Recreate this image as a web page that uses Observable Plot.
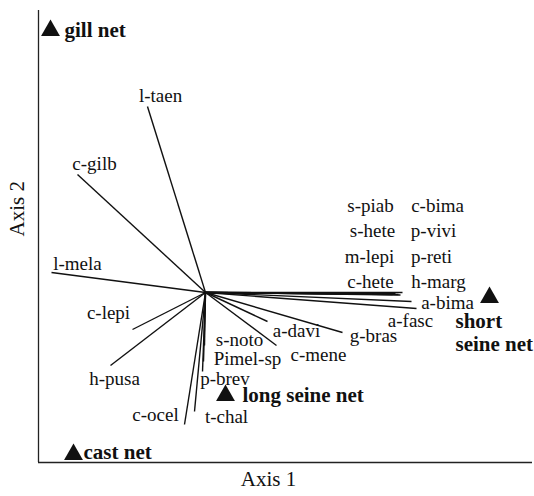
<!DOCTYPE html>
<html>
<head>
<meta charset="utf-8">
<script src="https://cdn.jsdelivr.net/npm/d3@7"></script>
<script src="https://cdn.jsdelivr.net/npm/@observablehq/plot@0.6"></script>
<style>
  html, body { margin: 0; padding: 0; background: #fff; }
  svg text { font-family: "Liberation Serif", "Times New Roman", serif; }
</style>
</head>
<body>
<div id="chart"></div>
<script>
// Species vectors (biplot scores, axis 1 / axis 2)
const species = ["l-taen","c-gilb","l-mela","c-lepi","h-pusa","c-ocel","t-chal","p-brev","Pimel-sp","s-noto",
  "a-davi","c-mene","g-bras","a-fasc","a-bima","s-piab","c-bima","s-hete","p-vivi","m-lepi","p-reti","c-hete","h-marg"];
const axis1 = [-0.58,-1.28,-1.54,-0.73,-0.95,-0.21,-0.11,-0.03,-0.02,-0.01,
  0.62,0.71,1.37,2.11,2.06,1.80,1.83,1.87,1.90,1.75,1.93,1.97,1.95];
const axis2 = [1.86,1.18,0.20,-0.37,-0.73,-1.32,-1.19,-0.79,-0.69,-0.53,
  -0.29,-0.53,-0.40,-0.16,-0.09,-0.01,-0.015,-0.02,-0.01,-0.005,-0.02,0.0,-0.025];
// Label positions for the species names
const labelX = [-0.45,-1.11,-1.28,-0.97,-0.91,-0.50,0.21,0.195,0.42,0.34,
  0.91,1.13,1.68,2.05,2.42,1.65,2.32,1.67,2.28,1.64,2.26,1.65,2.33];
const labelY = [1.97,1.29,0.29,-0.20,-0.86,-1.22,-1.24,-0.86,-0.665,-0.47,
  -0.38,-0.62,-0.43,-0.285,-0.10,0.87,0.87,0.62,0.62,0.36,0.36,0.11,0.11];

// Fishing gears
const gears = ["gill net","short\nseine net","long seine net","cast net"];
const gearX = [-1.55,2.84,0.20,-1.32];
const gearY = [2.62,-0.05,-1.03,-1.62];
const gearLabelX = [-1.41,2.50,0.37,-1.22];
const gearLabelY = [2.63,-0.395,-1.02,-1.59];

const xDomain = [-1.67, 3.27];
const yDomain = [-1.70, 2.82];

const vecs = species.map((s, i) => ({s, x: axis1[i], y: axis2[i], lx: labelX[i], ly: labelY[i]}));
const gearRows = gears.map((g, i) => ({g, x: gearX[i], y: gearY[i], lx: gearLabelX[i], ly: gearLabelY[i]}));

const font = "Liberation Serif";

const chart = Plot.plot({
  width: 534,
  height: 496,
  marginLeft: 38,
  marginRight: 2,
  marginTop: 10,
  marginBottom: 34,
  style: {background: "#fff", color: "#111"},
  x: {domain: xDomain, axis: null},
  y: {domain: yDomain, axis: null},
  marks: [
    Plot.ruleX([xDomain[0]], {stroke: "#222", strokeWidth: 1.3}),
    Plot.ruleY([yDomain[0]], {stroke: "#222", strokeWidth: 1.3}),
    Plot.link(vecs, {x1: 0, y1: 0, x2: "x", y2: "y", stroke: "#111", strokeWidth: 1.4}),
    Plot.text(vecs, {x: "lx", y: "ly", text: "s", fontSize: 19, fontFamily: font, fill: "#111"}),
    Plot.dot(gearRows, {x: "x", y: "y", symbol: "triangle", r: 7, fill: "#111", stroke: "none"}),
    Plot.text(gearRows, {x: "lx", y: "ly", text: "g", textAnchor: "start", fontSize: 21, fontFamily: font, fontWeight: "bold", lineHeight: 1.1, fill: "#111"}),
    Plot.text(["Axis 1"], {frameAnchor: "bottom", dy: 23, dx: -17, fontSize: 21, fontFamily: font, fill: "#111"}),
    Plot.text(["Axis 2"], {frameAnchor: "left", dx: -21, rotate: -90, fontSize: 21, fontFamily: font, fill: "#111"})
  ]
});
document.getElementById("chart").appendChild(chart);
</script>
</body>
</html>
